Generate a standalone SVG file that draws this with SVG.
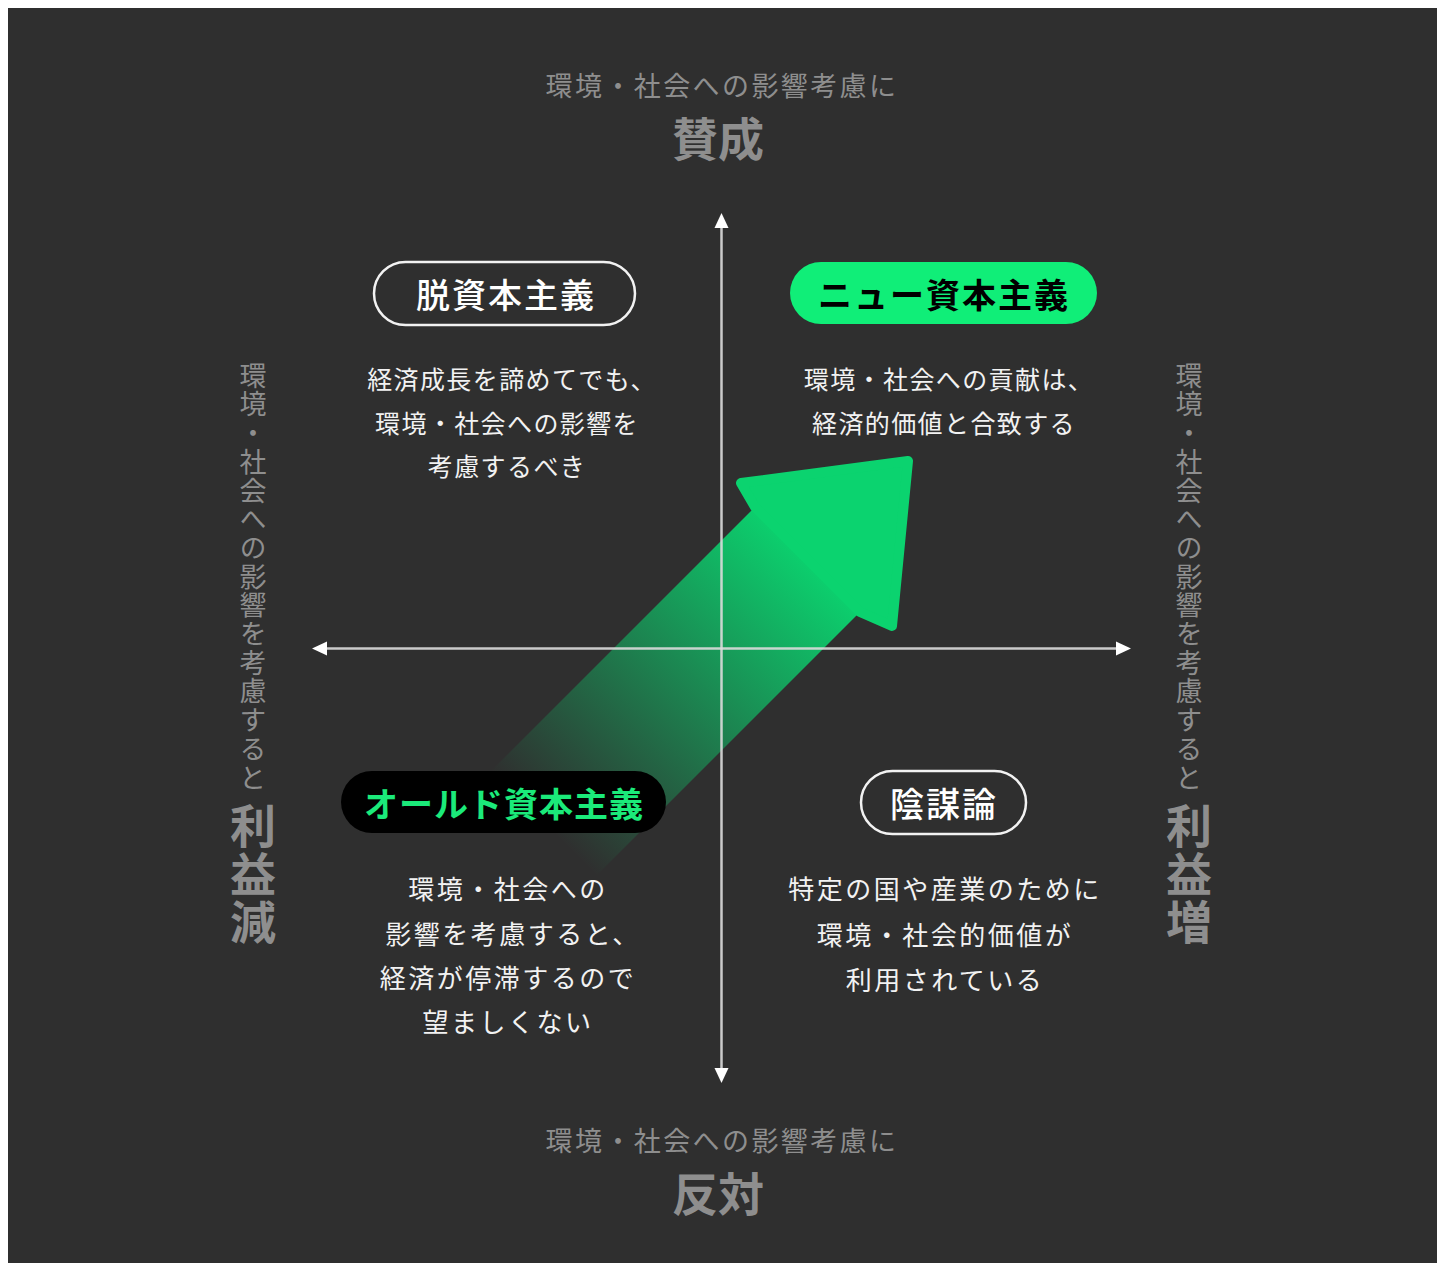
<svg xmlns="http://www.w3.org/2000/svg" width="1447" height="1263" viewBox="0 0 1447 1263">
<style>
text{font-family:"Noto Sans CJK JP","Noto Sans CJK SC",sans-serif;}
.hdr{fill:#8e8e8e;font-size:27px;letter-spacing:2.4px;text-anchor:middle;dominant-baseline:central;}
.big{fill:#8e8e8e;font-size:46px;font-weight:700;text-anchor:middle;dominant-baseline:central;}
.vs{fill:#8e8e8e;font-size:27px;letter-spacing:1.7px;writing-mode:vertical-rl;}
.vb{fill:#8e8e8e;font-size:46px;font-weight:700;letter-spacing:2px;writing-mode:vertical-rl;}
.body{fill:#f2f2f2;font-size:25px;letter-spacing:1.4px;text-anchor:middle;dominant-baseline:central;}
.body2{fill:#f2f2f2;font-size:26px;letter-spacing:2.5px;text-anchor:middle;dominant-baseline:central;}
.lbl{font-size:34px;letter-spacing:2px;text-anchor:middle;dominant-baseline:central;}
.axis{stroke:#dcdcdc;stroke-width:2.5;stroke-opacity:0.9;fill:none;}
.ah{fill:#ffffff;}
</style>
<defs>
<linearGradient id="ag" gradientUnits="userSpaceOnUse" x1="490" y1="770" x2="760" y2="500">
<stop offset="0" stop-color="#0bd36f" stop-opacity="0"/>
<stop offset="0.55" stop-color="#0bd36f" stop-opacity="0.55"/>
<stop offset="1" stop-color="#0bd36f" stop-opacity="1"/>
</linearGradient>
</defs>
<rect x="8" y="8" width="1429" height="1255" fill="#2f2f2f"/>

<g id="big-arrow">
<path d="M491,771 L758,504 L863,609 L596,876 Z" fill="url(#ag)"/>
<path d="M755,507 L741,483 L908,461 L892,626 L860,612 Z" fill="#0bd36f" stroke="#0bd36f" stroke-width="10" stroke-linejoin="round"/>
</g>

<g id="connectors">
<line class="axis" x1="721.5" y1="224" x2="721.5" y2="1072"/>
<line class="axis" x1="322" y1="648.5" x2="1121" y2="648.5"/>
<polygon class="ah" points="721.5,213 714.5,228 728.5,228"/>
<polygon class="ah" points="721.5,1083 714.5,1068 728.5,1068"/>
<polygon class="ah" points="312,648.5 327,641.5 327,655.5"/>
<polygon class="ah" points="1131,648.5 1116,641.5 1116,655.5"/>
</g>

<g id="top-axis-label">
<text class="hdr" x="722" y="84">環境・社会への影響考慮に</text>
<text class="big" x="718" y="136">賛成</text>
</g>
<g id="bottom-axis-label">
<text class="hdr" x="722" y="1139">環境・社会への影響考慮に</text>
<text class="big" x="718" y="1191">反対</text>
</g>
<g id="left-axis-label">
<text class="vs" x="253" y="362">環境・社会への影響を考慮すると</text>
<text class="vb" x="253" y="803">利益減</text>
</g>
<g id="right-axis-label">
<text class="vs" x="1189" y="362">環境・社会への影響を考慮すると</text>
<text class="vb" x="1189" y="803">利益増</text>
</g>

<g id="node-datsu">
<rect x="374" y="262" width="261" height="63" rx="31.5" fill="none" stroke="#f2f2f2" stroke-width="2.5"/>
<text class="lbl" x="506" y="293" fill="#ffffff" font-weight="500" font-size="35">脱資本主義</text>
<text class="body" x="512" y="378">経済成長を諦めてでも、</text>
<text class="body" x="507" y="422">環境・社会への影響を</text>
<text class="body" x="507" y="465">考慮するべき</text>
</g>

<g id="node-new">
<rect x="790" y="262" width="307" height="62" rx="31" fill="#10ee78"/>
<text class="lbl" x="944" y="293" fill="#000000" font-weight="700">ニュー資本主義</text>
<text class="body" x="949" y="378">環境・社会への貢献は、</text>
<text class="body" x="944" y="422">経済的価値と合致する</text>
</g>

<g id="node-old">
<rect x="341" y="771" width="325" height="62" rx="31" fill="#000000"/>
<text class="lbl" x="504" y="802" fill="#1bea7a" font-weight="700" style="letter-spacing:1px">オールド資本主義</text>
<text class="body2" x="508" y="887">環境・社会への</text>
<text class="body2" x="513" y="932">影響を考慮すると、</text>
<text class="body2" x="508" y="976">経済が停滞するので</text>
<text class="body2" x="508" y="1020">望ましくない</text>
</g>

<g id="node-inbo">
<rect x="861" y="771" width="165" height="63" rx="31.5" fill="none" stroke="#f2f2f2" stroke-width="2.5"/>
<text class="lbl" x="944" y="802" fill="#ffffff" font-weight="500">陰謀論</text>
<text class="body2" x="945" y="887">特定の国や産業のために</text>
<text class="body2" x="945" y="933">環境・社会的価値が</text>
<text class="body2" x="945" y="978">利用されている</text>
</g>
</svg>
